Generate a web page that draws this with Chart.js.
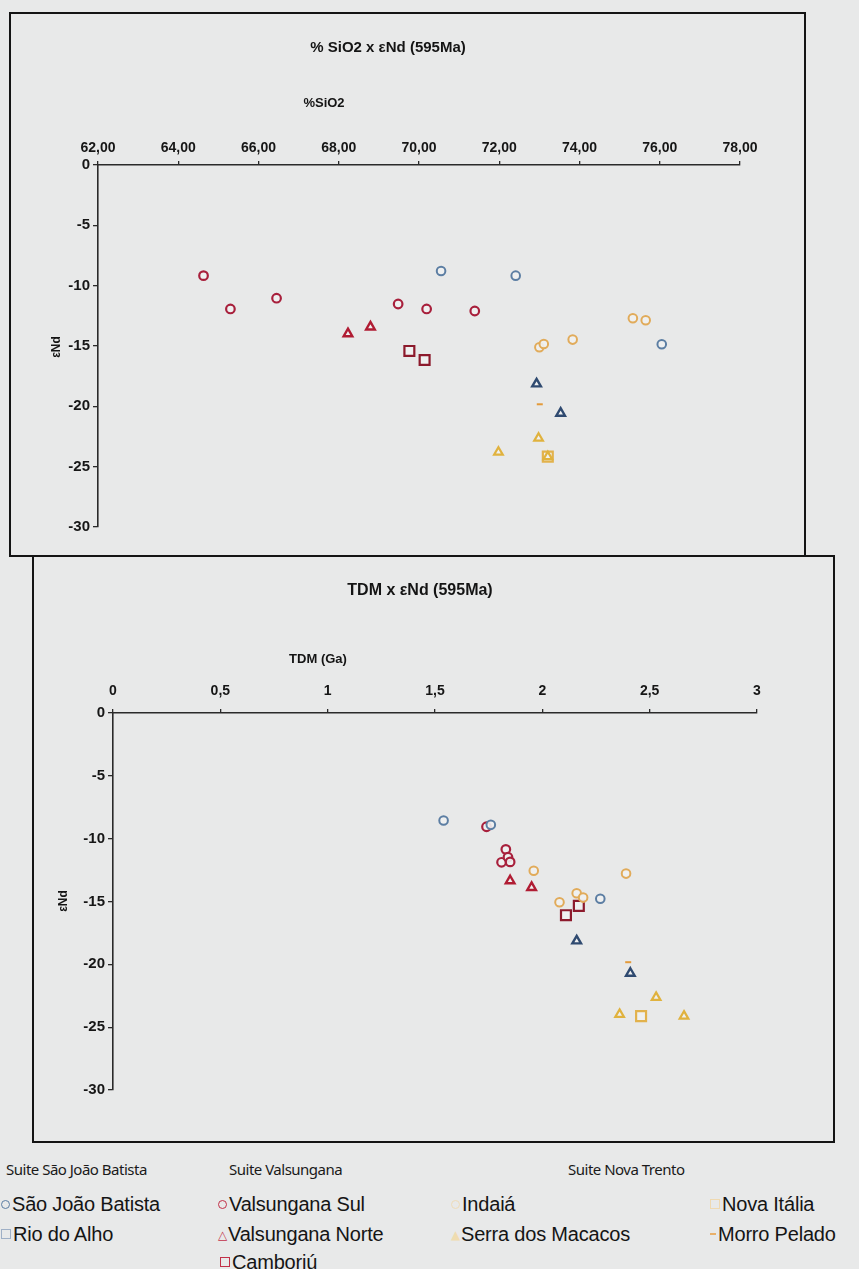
<!DOCTYPE html>
<html>
<head>
<meta charset="utf-8">
<script src="https://cdn.jsdelivr.net/npm/chart.js@4.4.1/dist/chart.umd.min.js"></script>
<style>
  html, body { margin: 0; padding: 0; background: #e8e9e9; }
  body { width: 859px; height: 1269px; position: relative; overflow: hidden;
         font-family: "Liberation Sans", Arial, sans-serif; color: #151515; }
  .box { position: absolute; border: 2px solid #141414; box-sizing: border-box; }
  canvas { position: absolute; left: 0; }
  .hdr { position: absolute; font-family: "Noto Sans", "Open Sans", sans-serif; font-size: 15px;
         letter-spacing: -0.5px; color: #1a1a1a; }
  .item { position: absolute; font-size: 20px; letter-spacing: -0.2px; color: #151515; white-space: nowrap; }
  .mk { display: inline-block; box-sizing: border-box; margin-right: 2px; vertical-align: 2px; }
  .mk.c { width: 9px; height: 9px; border-radius: 50%; border: 1.5px solid; }
  .mk.s { width: 10px; height: 10px; border: 1.5px solid; }
  .mk.d { width: 6px; height: 2px; vertical-align: 6px; }
  .mk.t { font-family: "DejaVu Sans", sans-serif; font-size: 12px; vertical-align: 2px; margin-right: 1px; }
</style>
</head>
<body>
<canvas id="sio2" width="859" height="556" style="top:0"></canvas>
<canvas id="tdm" width="859" height="590" style="top:556px"></canvas>
<div class="box" style="left:9px; top:12px; width:797px; height:545px;"></div>
<div class="box" style="left:32px; top:555px; width:803px; height:588px;"></div>

<div class="hdr" style="left:6px; top:1159px;">Suite São João Batista</div>
<div class="hdr" style="left:229px; top:1159px;">Suite Valsungana</div>
<div class="hdr" style="left:568px; top:1159px;">Suite Nova Trento</div>

<div class="item" style="left:1px; top:1193px;"><span class="mk c" style="border-color:#5c7ea3"></span>São João Batista</div>
<div class="item" style="left:218px; top:1193px;"><span class="mk c" style="border-color:#c23048"></span>Valsungana Sul</div>
<div class="item" style="left:451px; top:1193px;"><span class="mk c" style="border-color:#efdcb8"></span>Indaiá</div>
<div class="item" style="left:710px; top:1193px;"><span class="mk s" style="border-color:#efd9b0"></span>Nova Itália</div>

<div class="item" style="left:1px; top:1223px;"><span class="mk s" style="border-color:#9fb0c6"></span>Rio do Alho</div>
<div class="item" style="left:218px; top:1223px;"><span class="mk t" style="color:#c23048">△</span>Valsungana Norte</div>
<div class="item" style="left:451px; top:1223px;"><span class="mk t" style="color:#efdcb0">▲</span>Serra dos Macacos</div>
<div class="item" style="left:710px; top:1223px;"><span class="mk d" style="background:#e9b06a"></span>Morro Pelado</div>

<div class="item" style="left:220px; top:1251px;"><span class="mk s" style="border-color:#c23048"></span>Camboriú</div>

<script>
// Axis ticks
const sio2Ticks = [62, 64, 66, 68, 70, 72, 74, 76, 78];
const tdmTicks = [0, 0.5, 1, 1.5, 2, 2.5, 3];
const endTicks = [0, -5, -10, -15, -20, -25, -30];

// Suíte São João Batista
const sjbSiO2 = [70.55, 72.41, 76.05];
const sjbEndSiO2 = [-8.78, -9.17, -14.86];
const sjbTdm = [1.54, 1.76, 2.27];
const sjbEndTdm = [-8.55, -8.90, -14.78];

const rioSiO2 = [72.93, 73.53];
const rioEndSiO2 = [-18.14, -20.57];
const rioTdm = [2.16, 2.41];
const rioEndTdm = [-18.13, -20.71];

// Suíte Valsungana
const vsulSiO2 = [64.63, 65.30, 66.45, 69.48, 70.19, 71.39];
const vsulEndSiO2 = [-9.17, -11.93, -11.04, -11.52, -11.93, -12.10];
const vsulTdm = [1.74, 1.83, 1.81, 1.84, 1.85];
const vsulEndTdm = [-9.05, -10.85, -11.88, -11.48, -11.85];

const vnorSiO2 = [68.23, 68.79];
const vnorEndSiO2 = [-13.98, -13.42];
const vnorTdm = [1.85, 1.95];
const vnorEndTdm = [-13.35, -13.88];

const cambSiO2 = [69.76, 70.14];
const cambEndSiO2 = [-15.41, -16.16];
const cambTdm = [2.17, 2.11];
const cambEndTdm = [-15.35, -16.09];

// Suíte Nova Trento
const indSiO2 = [73.00, 73.11, 73.83, 75.33, 75.65];
const indEndSiO2 = [-15.10, -14.83, -14.47, -12.70, -12.87];
const indTdm = [2.08, 2.16, 2.19, 2.39, 1.96];
const indEndTdm = [-15.06, -14.34, -14.69, -12.78, -12.55];

const serSiO2 = [72.98, 71.98, 73.21];
const serEndSiO2 = [-22.64, -23.80, -24.17];
const serTdm = [2.36, 2.53, 2.66];
const serEndTdm = [-23.98, -22.63, -24.12];

const novSiO2 = [73.21];
const novEndSiO2 = [-24.17];
const novTdm = [2.46];
const novEndTdm = [-24.12];

const morSiO2 = [73.01];
const morEndSiO2 = [-19.83];
const morTdm = [2.40];
const morEndTdm = [-19.83];

const pts = (xs, ys) => xs.map((x, i) => ({ x, y: ys[i] }));

const FILL = 'rgba(240,241,241,0.9)';
function series(label, xs, ys, color, style, r, bw) {
  return {
    label, data: pts(xs, ys), pointStyle: style, pointRadius: r,
    borderColor: color, backgroundColor: FILL, pointBorderWidth: bw,
    pointBackgroundColor: FILL, pointBorderColor: color, showLine: false, clip: false
  };
}

function buildSets(which) {
  const s = which === 'sio2';
  return [
    series('São João Batista', s ? sjbSiO2 : sjbTdm, s ? sjbEndSiO2 : sjbEndTdm, '#5c7ea3', 'circle', 4.3, 2),
    series('Indaiá', s ? indSiO2 : indTdm, s ? indEndSiO2 : indEndTdm, '#e1ab5a', 'circle', 4.3, 2),
    series('Valsungana Sul', s ? vsulSiO2 : vsulTdm, s ? vsulEndSiO2 : vsulEndTdm, '#a8203c', 'circle', 4.3, 2.2),
    series('Valsungana Norte', s ? vnorSiO2 : vnorTdm, s ? vnorEndSiO2 : vnorEndTdm, '#b01c33', 'triangle', 5, 2.4),
    series('Camboriú', s ? cambSiO2 : cambTdm, s ? cambEndSiO2 : cambEndTdm, '#8c1a2c', 'rect', 7, 2.2),
    series('Rio do Alho', s ? rioSiO2 : rioTdm, s ? rioEndSiO2 : rioEndTdm, '#2f4a70', 'triangle', 5, 2.4),
    series('Serra dos Macacos', s ? serSiO2 : serTdm, s ? serEndSiO2 : serEndTdm, '#e0b23e', 'triangle', 5, 2.2),
    series('Nova Itália', s ? novSiO2 : novTdm, s ? novEndSiO2 : novEndTdm, '#e2b24c', 'rect', 7, 2.2),
    series('Morro Pelado', s ? morSiO2 : morTdm, s ? morEndSiO2 : morEndTdm, '#e39a3a', 'line', 3, 2)
  ];
}

// Titles and axis captions drawn onto each canvas
const captions = {
  id: 'captions',
  afterDraw(chart, args, opts) {
    const c = chart.ctx;
    c.save();
    c.fillStyle = '#141414';
    c.textAlign = 'center';
    c.textBaseline = 'middle';
    for (const t of opts.items || []) {
      c.font = t.font;
      c.save();
      c.translate(t.x, t.y);
      if (t.rotate) c.rotate(t.rotate);
      c.fillText(t.text, 0, 0);
      c.restore();
    }
    c.restore();
  }
};

const AXIS = '#2a2a2a';
const FONT = '"Liberation Sans", Arial, sans-serif';
const xTickFont = { family: FONT, size: 14, weight: 'bold' };
const yTickFont = { family: FONT, size: 15, weight: 'bold' };

function makeChart(id, which, xMin, xMax, xTicks, fmt, pad, xLabelPad, items) {
  return new Chart(document.getElementById(id), {
    type: 'scatter',
    data: { datasets: buildSets(which) },
    options: {
      responsive: false, animation: false, events: [],
      layout: { padding: pad },
      plugins: { legend: { display: false }, tooltip: { enabled: false }, captions: { items } },
      scales: {
        x: {
          type: 'linear', position: 'top', min: xMin, max: xMax,
          afterBuildTicks: sc => { sc.ticks = xTicks.map(v => ({ value: v })); },
          afterFit: sc => { sc.height = 40; },
          ticks: { font: xTickFont, color: '#161616', padding: xLabelPad, autoSkip: false, maxRotation: 0,
                   callback: v => fmt(v) },
          grid: { drawOnChartArea: false, drawTicks: true, tickLength: 4, color: AXIS, lineWidth: 1.3 },
          border: { color: AXIS, width: 1.6 }
        },
        y: {
          type: 'linear', min: -30, max: 0,
          afterBuildTicks: sc => { sc.ticks = endTicks.map(v => ({ value: v })); },
          afterFit: sc => { sc.width = 60; },
          ticks: { font: yTickFont, color: '#161616', padding: 3, autoSkip: false },
          grid: { drawOnChartArea: false, drawTicks: true, tickLength: 5, color: AXIS, lineWidth: 1.3 },
          border: { color: AXIS, width: 1.6 }
        }
      }
    },
    plugins: [captions]
  });
}

// %SiO2 x εNd: plot area spans x 100–740, y 165–527
makeChart('sio2', 'sio2', 62, 78, sio2Ticks,
  v => v.toFixed(2).replace('.', ','),
  { left: 38, top: 125, right: 119, bottom: 29 }, 4,
  [
    { text: '% SiO2 x εNd (595Ma)', x: 388, y: 48, font: 'bold 15px ' + FONT },
    { text: '%SiO2', x: 324, y: 103, font: 'bold 13px ' + FONT },
    { text: 'εNd', x: 57, y: 347, rotate: -Math.PI / 2, font: 'bold 12px ' + FONT }
  ]);

// TDM x εNd: plot area spans x 113–757, y 713–1090 on the page
makeChart('tdm', 'tdm', 0, 3, tdmTicks,
  v => String(v).replace('.', ','),
  { left: 53, top: 117, right: 102, bottom: 56 }, 9,
  [
    { text: 'TDM x εNd (595Ma)', x: 420, y: 35, font: 'bold 16px ' + FONT },
    { text: 'TDM (Ga)', x: 318, y: 103, font: 'bold 13px ' + FONT },
    { text: 'εNd', x: 64, y: 345, rotate: -Math.PI / 2, font: 'bold 12px ' + FONT }
  ]);
</script>
</body>
</html>
